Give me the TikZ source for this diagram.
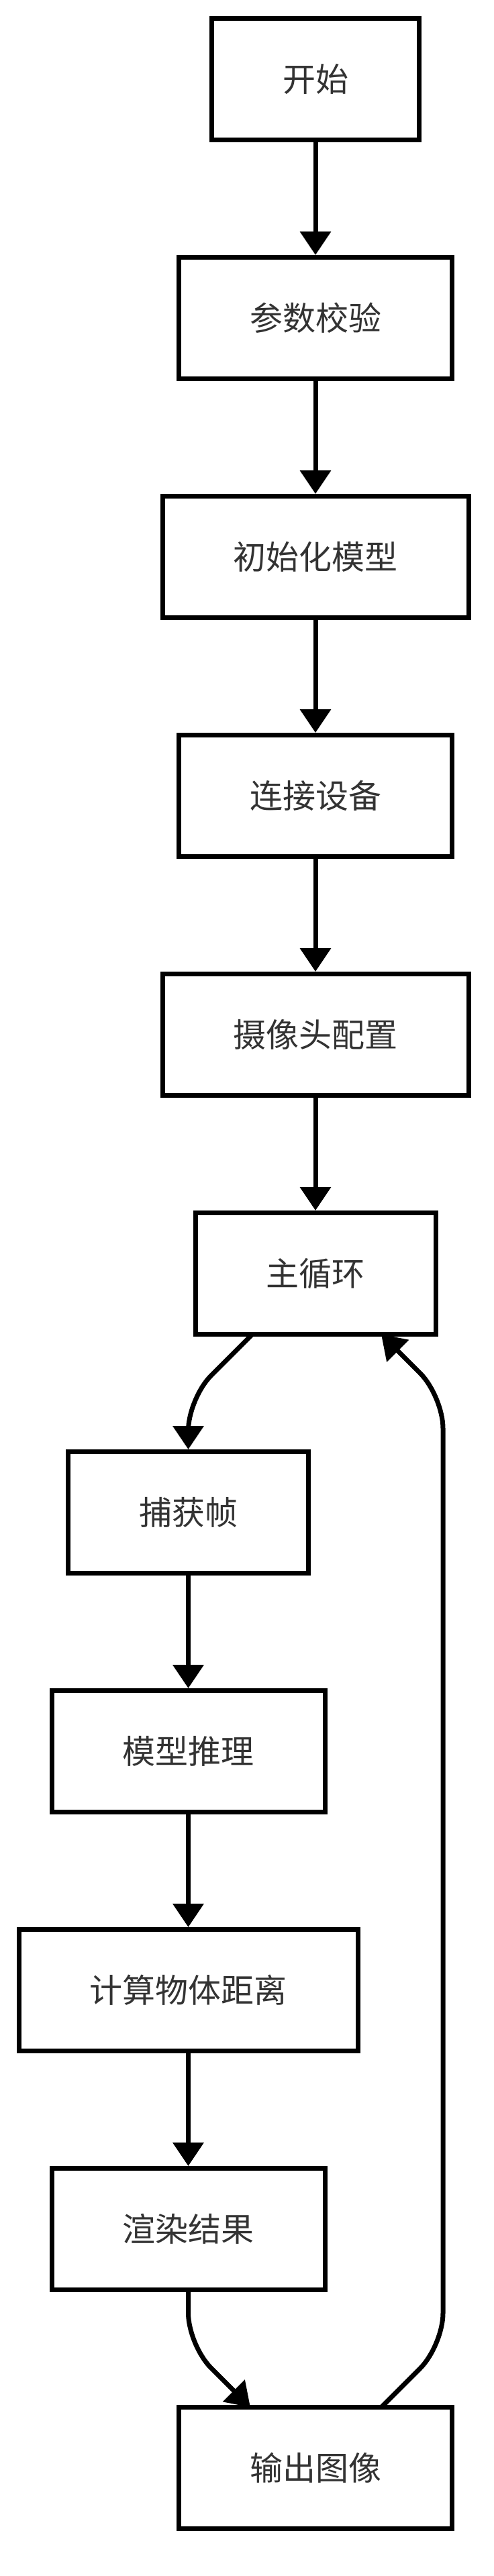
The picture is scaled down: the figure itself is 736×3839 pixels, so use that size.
\documentclass[tikz,border=0pt]{standalone}
\usepackage{fontspec}
\setmainfont{Noto Sans CJK SC}
\usetikzlibrary{arrows.meta}
\definecolor{txt}{HTML}{333333}
\begin{document}
\begin{tikzpicture}[x=1pt,y=1pt,
  box/.style={draw=black, line width=7pt, fill=white, text=txt,
    font=\fontsize{49}{56}\selectfont, inner xsep=105.5pt, inner ysep=0pt,
    minimum height=181pt, anchor=center},
  conn/.style={draw=black, line width=7pt, -{Triangle[length=35pt,width=45pt]}},
]
\useasboundingbox (0,0) rectangle (736,-3839);
\fill[white] (0,0) rectangle (736,-3839);
\node[box] (start) at (470,-118) {开始};
\node[box] (check) at (470,-474) {参数校验};
\node[box] (init)  at (470,-830) {初始化模型};
\node[box] (conn)  at (470,-1186) {连接设备};
\node[box] (cam)   at (470,-1542) {摄像头配置};
\node[box] (loop)  at (470,-1898) {主循环};
\node[box] (cap)   at (280.5,-2254) {捕获帧};
\node[box] (infer) at (280.5,-2610) {模型推理};
\node[box] (dist)  at (280.5,-2966) {计算物体距离};
\node[box] (rend)  at (280.5,-3322) {渲染结果};
\node[box] (out)   at (470,-3678) {输出图像};
\draw[conn] (start) -- (check);
\draw[conn] (check) -- (init);
\draw[conn] (init) -- (conn);
\draw[conn] (conn) -- (cam);
\draw[conn] (cam) -- (loop);
\coordinate (a1) at (376,-1988.5);
\coordinate (a2) at (280.5,-2084);
\draw[conn, rounded corners=48pt] (a1) -- (a2) -- (cap.north);
\draw[conn] (cap) -- (infer);
\draw[conn] (infer) -- (dist);
\draw[conn] (dist) -- (rend);
\coordinate (b1) at (280.5,-3495);
\coordinate (b2) at (373,-3587.5);
\draw[conn, rounded corners=48pt] (rend.south) -- (b1) -- (b2);
\coordinate (c1) at (568,-3587.5);
\coordinate (c2) at (660,-3495.5);
\coordinate (c3) at (660,-2080.5);
\coordinate (c4) at (568,-1988.5);
\draw[conn, rounded corners=48pt] (c1) -- (c2) -- (c3) -- (c4);
\end{tikzpicture}
\end{document}
